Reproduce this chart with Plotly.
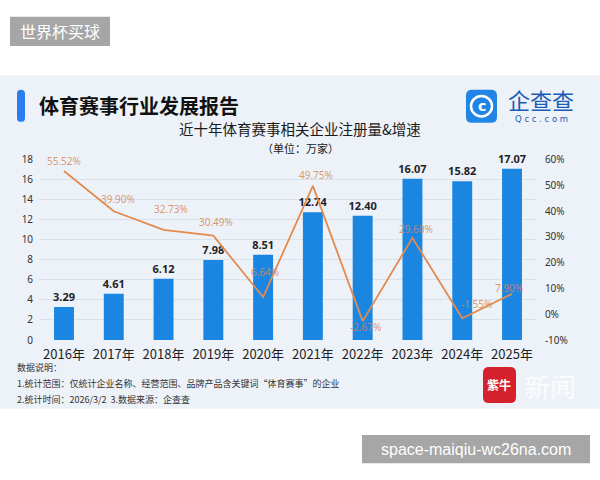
import plotly.graph_objects as go

# ---------------- data ----------------
years = ["2016年", "2017年", "2018年", "2019年", "2020年",
         "2021年", "2022年", "2023年", "2024年", "2025年"]
registrations = [3.29, 4.61, 6.12, 7.98, 8.51, 12.74, 12.40, 16.07, 15.82, 17.07]
growth = [55.52, 39.90, 32.73, 30.49, 6.64, 49.75, -2.67, 29.60, -1.55, 7.90]
left_ticks = [0, 2, 4, 6, 8, 10, 12, 14, 16, 18]
right_ticks = [-10, 0, 10, 20, 30, 40, 50, 60]

# label offsets (pixels) for the growth labels
lbl_dx = [0, 4, 7, 3, 2, 3, 3, 4, 14, -3]
lbl_dy = [10, 12, 21, 14, 25, 11, -6, 9, 14, 6]

W, H = 600, 480
FONT = "Noto Sans CJK SC"


def px(x):
    return x / W


def py(y):
    return 1 - y / H


def rrect(x0, y0, x1, y1, r):
    # rounded rectangle path in paper coords, from pixel values
    X0, X1 = px(x0), px(x1)
    Y0, Y1 = py(y0), py(y1)
    rx, ry = r / W, r / H
    return (f"M{X0+rx},{Y0} L{X1-rx},{Y0} Q{X1},{Y0} {X1},{Y0-ry} "
            f"L{X1},{Y1+ry} Q{X1},{Y1} {X1-rx},{Y1} L{X0+rx},{Y1} "
            f"Q{X0},{Y1} {X0},{Y1+ry} L{X0},{Y0-ry} Q{X0},{Y0} {X0+rx},{Y0} Z")


fig = go.Figure()

fig.add_trace(go.Bar(
    x=list(range(len(years))), y=registrations,
    marker=dict(color="#1a86e2", line=dict(width=0)),
    text=[f"<b>{v:.2f}</b>" for v in registrations], textposition="outside",
    textfont=dict(family="Noto Sans", size=11, color="#1f2328"),
    constraintext="none",
    cliponaxis=False, width=0.4, yaxis="y", hoverinfo="skip",
))

fig.add_trace(go.Scatter(
    x=list(range(len(years))), y=growth, mode="lines",
    line=dict(color="#e38b4f", width=1.8), yaxis="y2", hoverinfo="skip",
))

annotations = []
for i, g in enumerate(growth):
    annotations.append(dict(
        x=i, y=g, xref="x", yref="y2", text=f"{g:.2f}%", showarrow=False,
        xshift=lbl_dx[i], yshift=lbl_dy[i],
        font=dict(family="Noto Sans", size=10, color="rgba(214,135,85,0.85)"),
    ))

# texts around the chart
annotations += [
    dict(x=px(37), y=py(101), xref="paper", yref="paper", xanchor="left", yanchor="middle",
         text="<b>体育赛事行业发展报告</b>", showarrow=False,
         font=dict(family=FONT, size=20, color="#111111")),
    dict(x=px(300), y=py(125), xref="paper", yref="paper", xanchor="center", yanchor="middle",
         text="近十年体育赛事相关企业注册量&增速", showarrow=False,
         font=dict(family=FONT, size=14.5, color="#1a1a1a")),
    dict(x=px(300), y=py(145), xref="paper", yref="paper", xanchor="center", yanchor="middle",
         text="（单位：万家）", showarrow=False,
         font=dict(family=FONT, size=11, color="#1a1a1a")),
    dict(x=px(15), y=py(371), xref="paper", yref="paper", xanchor="left", yanchor="middle",
         text="数据说明：", showarrow=False,
         font=dict(family=FONT, size=9, color="#333333")),
    dict(x=px(15), y=py(387), xref="paper", yref="paper", xanchor="left", yanchor="middle",
         text="1.统计范围：仅统计企业名称、经营范围、品牌产品含关键词“体育赛事”的企业",
         showarrow=False, font=dict(family=FONT, size=9, color="#333333")),
    dict(x=px(15), y=py(403), xref="paper", yref="paper", xanchor="left", yanchor="middle",
         text="2.统计时间：2026/3/2  3.数据来源：企查查", showarrow=False,
         font=dict(family=FONT, size=9, color="#333333")),
    # Qcc logo texts
    dict(x=px(541), y=py(95), xref="paper", yref="paper", xanchor="center", yanchor="middle",
         text="企查查", showarrow=False,
         font=dict(family=FONT, size=22, color="#1b5db5")),
    dict(x=px(541), y=py(115), xref="paper", yref="paper", xanchor="center", yanchor="middle",
         text="Q c c . c o m", showarrow=False,
         font=dict(family="DejaVu Sans", size=8.5, color="#1b5db5")),
    dict(x=px(481.5), y=py(102), xref="paper", yref="paper", xanchor="center", yanchor="middle",
         text="<b>c</b>", showarrow=False,
         font=dict(family="DejaVu Sans", size=14, color="#ffffff")),
    # red news logo
    dict(x=px(499), y=py(388), xref="paper", yref="paper", xanchor="center", yanchor="middle",
         text="<b>紫牛</b>", showarrow=False,
         font=dict(family=FONT, size=12, color="#ffffff")),
    dict(x=px(550), y=py(389), xref="paper", yref="paper", xanchor="center", yanchor="middle",
         text="新闻", showarrow=False,
         font=dict(family=FONT, size=26, color="rgba(255,255,255,0.85)")),
    # watermarks
    dict(x=px(60), y=py(25), xref="paper", yref="paper", xanchor="center", yanchor="middle",
         text="世界杯买球", showarrow=False,
         font=dict(family=FONT, size=16, color="#ffffff")),
    dict(x=px(476), y=py(455), xref="paper", yref="paper", xanchor="center", yanchor="middle",
         text="space-maiqiu-wc26na.com", showarrow=False,
         font=dict(family="Liberation Sans", size=16, color="#ffffff")),
]

shapes = [
    # card background
    dict(type="rect", xref="paper", yref="paper", x0=0, x1=1, y0=py(413), y1=py(70),
         fillcolor="#edf1f8", line=dict(width=0), layer="below"),
    # title accent bar
    dict(type="path", xref="paper", yref="paper", path=rrect(17, 85, 25, 118, 4),
         fillcolor="#2a7ef0", line=dict(width=0), layer="above"),
    # Qcc icon
    dict(type="path", xref="paper", yref="paper", path=rrect(466, 85, 497, 119, 6),
         fillcolor="#2185e6", line=dict(width=0), layer="above"),
    dict(type="circle", xref="paper", yref="paper", x0=px(471), x1=px(492), y0=py(112.5), y1=py(91.5),
         fillcolor="rgba(0,0,0,0)", line=dict(color="#ffffff", width=2.5), layer="above"),
    # red news icon
    dict(type="path", xref="paper", yref="paper", path=rrect(483, 370, 516, 407, 6),
         fillcolor="#d5212c", line=dict(width=0), layer="above"),
    # watermark boxes
    dict(type="rect", xref="paper", yref="paper", x0=px(10), x1=px(110), y0=py(40), y1=py(10),
         fillcolor="#a6a6a6", line=dict(width=0), layer="above"),
    dict(type="rect", xref="paper", yref="paper", x0=px(362), x1=px(590), y0=py(469), y1=py(440),
         fillcolor="#a6a6a6", line=dict(width=0), layer="above"),
]

fig.update_layout(
    width=W, height=H,
    margin=dict(l=0, r=0, t=0, b=0),
    paper_bgcolor="#ffffff", plot_bgcolor="rgba(0,0,0,0)",
    showlegend=False, bargap=0.6,
    annotations=annotations, shapes=shapes,
    xaxis=dict(
        domain=[px(39.1), px(536.9)], range=[-0.5, 9.5],
        tickmode="array", tickvals=list(range(len(years))), ticktext=years,
        tickfont=dict(family=FONT, size=13, color="#1f1f1f"),
        showgrid=False, zeroline=False, showline=False, ticks="",
        ticklabelstandoff=5, anchor="y",
    ),
    yaxis=dict(
        domain=[py(342.3), py(156.7)], range=[0, 18],
        tickmode="array", tickvals=left_ticks,
        tickfont=dict(family="Noto Sans", size=10, color="#333333"),
        showgrid=True, gridcolor="#dbe1ea", gridwidth=1,
        zeroline=False, showline=False, ticks="", ticklabelstandoff=5,
    ),
    yaxis2=dict(
        overlaying="y", side="right", range=[-10, 60],
        tickmode="array", tickvals=right_ticks,
        ticktext=[f"{v}%" for v in right_ticks],
        tickfont=dict(family="Noto Sans", size=10, color="#333333"),
        showgrid=False, zeroline=False, showline=False, ticks="", ticklabelstandoff=7,
        anchor="x",
    ),
)

fig.write_html("out.html")
